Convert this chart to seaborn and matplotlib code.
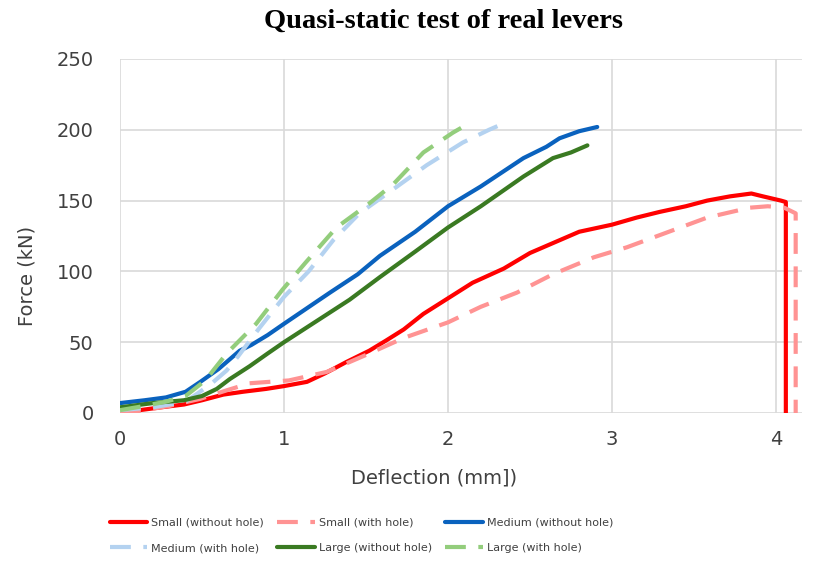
import matplotlib
matplotlib.use("Agg")
import matplotlib.pyplot as plt
import seaborn as sns
import pandas as pd
from matplotlib.lines import Line2D

# ---- data ----
series_names = ["Small (without hole)", "Small (with hole)", "Medium (without hole)",
                "Medium (with hole)", "Large (without hole)", "Large (with hole)"]

small_wo_x = [0, 0.12, 0.25, 0.39, 0.5, 0.63, 0.75, 0.89, 1.0, 1.14, 1.25, 1.38, 1.52, 1.62,
              1.73, 1.85, 2.0, 2.15, 2.34, 2.5, 2.68, 2.8, 3.0, 3.15, 3.29, 3.45, 3.58, 3.72,
              3.85, 3.92, 4.03, 4.06, 4.06]
small_wo_y = [0, 2, 4, 6, 9, 13, 15, 17, 19, 22, 28, 36, 44, 51,
              59, 70, 81, 92, 102, 113, 122, 128, 133, 138, 142, 146, 150, 153,
              155, 153, 150, 149, 0]

small_w_x = [0, 0.15, 0.3, 0.49, 0.65, 0.79, 1.03, 1.26, 1.5, 1.73, 2.0, 2.2, 2.42, 2.64,
             2.89, 3.09, 3.3, 3.58, 3.84, 3.95, 4.05, 4.12, 4.12]
small_w_y = [0, 2, 5, 10, 16, 21, 23, 29, 41, 53, 64, 75, 85, 98,
             110, 117, 126, 138, 145, 146, 145, 141, 0]

medium_wo_x = [0, 0.15, 0.28, 0.4, 0.49, 0.6, 0.73, 0.8, 0.9, 1.0, 1.14, 1.28, 1.45, 1.585,
               1.8, 2.0, 2.2, 2.46, 2.6, 2.68, 2.8, 2.91]
medium_wo_y = [7, 9, 11, 15, 22, 31, 44, 48, 55, 63, 74, 85, 98, 111,
               128, 146, 160, 180, 188, 194, 199, 202]

medium_w_x = [0, 0.2, 0.4, 0.55, 0.65, 0.72, 0.85, 1.0, 1.15, 1.3, 1.46, 1.69, 1.87, 2.09,
              2.25, 2.35]
medium_w_y = [2, 4, 8, 20, 30, 40, 60, 82, 100, 122, 141, 160, 175, 191,
              200, 205]

large_wo_x = [0, 0.2, 0.39, 0.5, 0.59, 0.67, 0.79, 0.9, 1.0, 1.2, 1.4, 1.585, 1.8, 2.0,
              2.2, 2.46, 2.64, 2.75, 2.85]
large_wo_y = [4, 7, 9, 12, 17, 24, 33, 42, 50, 65, 80, 96, 114, 131,
              146, 167, 180, 184, 189]

large_w_x = [0, 0.15, 0.28, 0.4, 0.52, 0.65, 0.83, 0.99, 1.13, 1.32, 1.52, 1.67, 1.85, 2.03,
             2.09]
large_w_y = [2, 5, 8, 12, 23, 42, 63, 87, 106, 131, 148, 162, 184, 198,
             202]

xs = [small_wo_x, small_w_x, medium_wo_x, medium_w_x, large_wo_x, large_w_x]
ys = [small_wo_y, small_w_y, medium_wo_y, medium_w_y, large_wo_y, large_w_y]

colors = ["#FF0000", "#FF9393", "#0A62BE", "#B4D2F0", "#3A7A22", "#93CD7C"]
dash_styles = ["", (5, 3), "", (5, 3), "", (5, 3)]

frames = []
for name, x, y in zip(series_names, xs, ys):
    frames.append(pd.DataFrame({"x": x, "y": y, "series": name}))
df = pd.concat(frames, ignore_index=True)

palette = dict(zip(series_names, colors))
dashes = dict(zip(series_names, dash_styles))

# ---- figure ----
sns.set_style("white")
plt.rcParams["font.family"] = ["DejaVu Sans"]

fig = plt.figure(figsize=(8.22, 5.70), dpi=100)
ax = fig.add_axes([120 / 822, 1 - 413 / 570, (802 - 120) / 822, (413 - 59) / 570])

sns.lineplot(data=df, x="x", y="y", hue="series", style="series", hue_order=series_names,
             style_order=series_names, palette=palette, dashes=dashes, estimator=None,
             sort=False, units="series", linewidth=3.0, legend=False, ax=ax)

ax.set_xlim(0, (802 - 120) / 164)
ax.set_ylim(0, 250)
ax.set_xticks([0, 1, 2, 3, 4])
ax.set_yticks([0, 50, 100, 150, 200, 250])
ax.grid(True, color="#d9d9d9", linewidth=1.2)
ax.set_axisbelow(True)
for s in ax.spines.values():
    s.set_visible(False)
ax.tick_params(axis="both", length=0, labelsize=14, labelcolor="#404040")
ax.tick_params(axis="y", pad=19)
ax.tick_params(axis="x", pad=12)
ax.set_xlabel("")
ax.set_ylabel("")

fig.text(443 / 822, 1 - 21 / 570, "Quasi-static test of real levers", ha="center", va="center",
         fontsize=20.5, fontweight="bold", family=["Liberation Serif"], color="black")
fig.text(434 / 822, 1 - 478 / 570, "Deflection (mm])", ha="center", va="center",
         fontsize=14, color="#404040")
fig.text(27 / 822, 1 - 276 / 570, "Force (kN)", ha="center", va="center", rotation=90,
         fontsize=14, color="#404040")

handles = [Line2D([0], [0], color=c, linewidth=3.0,
                  linestyle="-" if d == "" else (0, d)) for c, d in zip(colors, dash_styles)]
order = [0, 3, 1, 4, 2, 5]
fig.legend([handles[i] for i in order], [series_names[i] for i in order], ncol=3,
           loc="upper left", bbox_to_anchor=(104 / 822, 1 - 512 / 570), frameon=False,
           fontsize=8, handlelength=3.4, handletextpad=0.35, columnspacing=1.2,
           labelspacing=1.4, borderpad=0, labelcolor="#404040")

fig.savefig("out.png", dpi=100)
